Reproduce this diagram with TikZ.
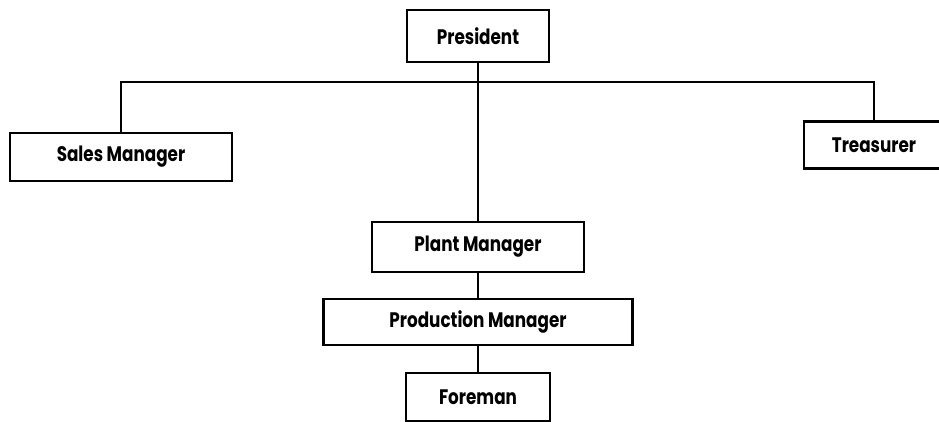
\documentclass[tikz,border=0pt]{standalone}
\usepackage{fontspec}
\setmainfont{Poppins}[FakeStretch=0.8]
\begin{document}
\begin{tikzpicture}[x=1pt,y=-1pt,node distance=75pt,
  box/.style={draw,line width=2.6pt,inner sep=0pt,font=\bfseries\fontsize{21}{23}\selectfont},
  link/.style={draw,line width=2.2pt}]
\useasboundingbox (0,0) rectangle (939,421);
\node[box,minimum width=142pt,minimum height=52pt] (P) at (478,36) {President};
\node[box,minimum width=222pt,minimum height=48pt] (S) at (121,157) {Sales Manager};
\node[box,minimum width=140pt,minimum height=47pt] (T) at (874,145) {Treasurer};
\node[box,minimum width=212pt,minimum height=50pt] (M) at (478,247) {Plant Manager};
\node[box,minimum width=309pt,minimum height=46pt] (D) [below of = M] {Production Manager};
\node[box,minimum width=144pt,minimum height=48pt] (F) [below of = D] {Foreman};
\coordinate (B) at (478,82);
\path[link] (S.north) |- (B) -| (T.north);
\path (P) edge [link] (M);
\path (M) edge [link] (D);
\path (D) edge [link] (F);
\end{tikzpicture}
\end{document}
